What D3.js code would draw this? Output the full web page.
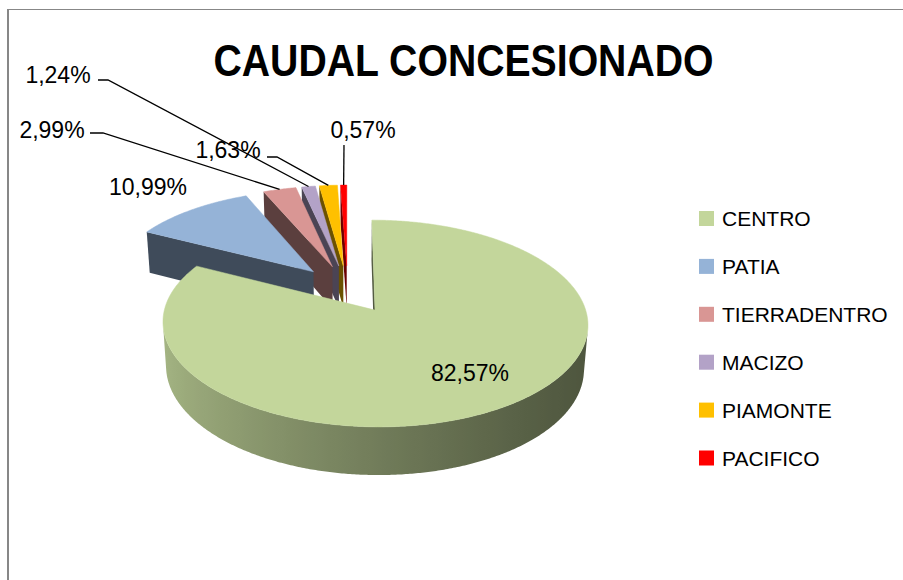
<!DOCTYPE html>
<html>
<head>
<meta charset="utf-8">
<script src="https://cdn.jsdelivr.net/npm/d3@7"></script>
<style>
  html, body { margin: 0; padding: 0; background: #fff; }
  svg { display: block; font-family: "Liberation Sans", Arial, sans-serif; }
</style>
</head>
<body>
<svg width="903" height="580"></svg>
<script>
const title = 'CAUDAL CONCESIONADO';
const regions = ['CENTRO', 'PATIA', 'TIERRADENTRO', 'MACIZO', 'PIAMONTE', 'PACIFICO'];
const shares = [82.57, 10.99, 2.99, 1.24, 1.63, 0.57];
const colors = ['#c3d69b', '#95b3d7', '#d99694', '#b3a2c7', '#ffc000', '#ff0000'];

// hand placed data labels (like the Excel original) and their leader lines
const labelPos = [[470, 373], [148, 187], [52, 130], [58, 75], [228, 150], [363, 130]];
const leaders = [null, null, [[90, 133], [103, 133]], [[98, 80], [108, 80]], [[267, 157], [277, 157]], [[344, 145]]];

const svg = d3.select('svg');
const defs = svg.append('defs');

// 3d view of the pie
const TILT = 28 * Math.PI / 180;
const SIN = Math.sin(TILT), COS = Math.cos(TILT);
const DIST = 7, FOCAL = 1435;
const CX = 347.6, CY = 289;
const EXPLODE = 0.25, THICK = 0.242;
const cam = [0, DIST * COS, DIST * SIN];

const project = ([u, v, w]) => {
    const z = DIST - v * COS - w * SIN;
    return [CX + FOCAL * u / z, CY + FOCAL * (v * SIN - w * COS) / z];
};
const depth = ([u, v, w]) => DIST - v * COS - w * SIN;

const shade = (col, k) => {
    const c = d3.rgb(col);
    return d3.rgb(c.r * k, c.g * k, c.b * k).formatHex();
};
// light comes from the left
const sideLight = (a) => 0.635 - 0.225 * Math.sin(a) + 0.055 * Math.cos(a);
const WALL_LIGHT = 0.42;

const data = regions.map((name, i) => ({ name, share: shares[i], color: colors[i] }));
const arcs = d3.pie().sort(null).value(d => d.share)(data);

const visible = (normal, p) =>
    normal[0] * (cam[0] - p[0]) + normal[1] * (cam[1] - p[1]) + normal[2] * (cam[2] - p[2]) > 0;

const walls = [];
const tops = [];
let gradId = 0;

arcs.forEach(a => {
    const mid = (a.startAngle + a.endAngle) / 2;
    const off = [EXPLODE * Math.sin(mid), -EXPLODE * Math.cos(mid)];
    const pt = (ang, r, w) => [off[0] + r * Math.sin(ang), off[1] - r * Math.cos(ang), w];
    a.pt = pt;
    a.mid = mid;

    const n = Math.max(2, Math.ceil((a.endAngle - a.startAngle) / (0.5 * Math.PI / 180)));
    const step = (a.endAngle - a.startAngle) / n;
    const ang = i => a.startAngle + i * step;

    // outer curved side: group visible segments into runs, one path + gradient each
    const vis = d3.range(n).map(i => {
        const tm = ang(i + 0.5);
        return visible([Math.sin(tm), -Math.cos(tm), 0], pt(tm, 1, -THICK / 2));
    });
    let i = 0;
    while (i < n) {
        if (!vis[i]) { i++; continue; }
        let j = i;
        while (j < n && vis[j]) j++;
        const ts = d3.range(i, j + 1).map(ang);
        const topPts = ts.map(t => pt(t, 1, 0));
        const botPts = ts.map(t => pt(t, 1, -THICK)).reverse();
        const xs = topPts.map(p => project(p)[0]);
        const x0 = d3.min(xs), x1 = d3.max(xs);
        const id = 'side' + (gradId++);
        const stops = ts.map((t, k) => ({ o: x1 > x0 ? (xs[k] - x0) / (x1 - x0) : 0, c: shade(a.data.color, sideLight(t)) }))
            .sort((p, q) => p.o - q.o)
            .filter((_s, k, arr) => k % 4 === 0 || k === arr.length - 1);
        defs.append('linearGradient')
            .attr('id', id)
            .attr('gradientUnits', 'userSpaceOnUse')
            .attr('x1', x0).attr('x2', x1).attr('y1', 0).attr('y2', 0)
            .selectAll('stop')
            .data(stops)
            .join('stop')
            .attr('offset', s => s.o)
            .attr('stop-color', s => s.c);
        const tmid = ang((i + j) / 2);
        walls.push({ pts: [...topPts, ...botPts], fill: `url(#${id})`, z: depth(pt(tmid, 1, -THICK / 2)) });
        i = j;
    }

    // radial walls
    const radial = (an, normal) => {
        const p = pt(an, 0.5, -THICK / 2);
        if (!visible(normal, p)) return;
        walls.push({
            pts: [pt(an, 0, 0), pt(an, 1, 0), pt(an, 1, -THICK), pt(an, 0, -THICK)],
            fill: shade(a.data.color, WALL_LIGHT),
            z: depth(p)
        });
    };
    radial(a.startAngle, [-Math.cos(a.startAngle), -Math.sin(a.startAngle), 0]);
    radial(a.endAngle, [Math.cos(a.endAngle), Math.sin(a.endAngle), 0]);

    // top face
    const ring = d3.range(n + 1).map(k => pt(ang(k), 1, 0));
    tops.push({ pts: [pt(0, 0, 0), ...ring], fill: a.data.color });
});

walls.sort((p, q) => q.z - p.z);

const line = d3.line();
const facePath = f => line(f.pts.map(project)) + 'Z';

// frame
svg.append('path')
    .attr('d', 'M8,580V9.5H903')
    .attr('fill', 'none')
    .attr('stroke', '#878787')
    .attr('stroke-width', 1.2);
svg.append('line')
    .attr('x1', 8).attr('x2', 8).attr('y1', 9).attr('y2', 580)
    .attr('stroke', '#878787').attr('stroke-width', 2);

// title
svg.append('text')
    .attr('x', 463.5)
    .attr('y', 75.5)
    .attr('text-anchor', 'middle')
    .attr('textLength', 500)
    .attr('lengthAdjust', 'spacingAndGlyphs')
    .style('font-size', '44px')
    .style('font-weight', 'bold')
    .style('fill', '#000')
    .text(title);

// pie
const pieG = svg.append('g').attr('id', 'pie');
pieG.append('g').attr('id', 'walls')
    .selectAll('path')
    .data(walls)
    .join('path')
    .attr('d', facePath)
    .attr('fill', d => d.fill)
    .attr('stroke', 'none');

pieG.append('g').attr('id', 'tops')
    .selectAll('path')
    .data(tops)
    .join('path')
    .attr('d', facePath)
    .attr('fill', d => d.fill)
    .attr('stroke', d => d.fill)
    .attr('stroke-width', 0.5)
    .attr('stroke-linejoin', 'round');

// leader lines
svg.append('g').attr('id', 'leaders')
    .selectAll('path')
    .data(arcs.filter((_d, i) => leaders[i]))
    .join('path')
    .attr('d', d => line([...leaders[d.index], project(d.pt(d.mid, 1, 0))]))
    .attr('fill', 'none')
    .attr('stroke', '#000')
    .attr('stroke-width', 1.3);

// data labels
const fmt = v => d3.format('.2f')(v).replace('.', ',') + '%';
svg.append('g').attr('id', 'labels')
    .selectAll('text')
    .data(arcs)
    .join('text')
    .attr('x', d => labelPos[d.index][0])
    .attr('y', d => labelPos[d.index][1])
    .attr('dy', '0.36em')
    .attr('text-anchor', 'middle')
    .style('font-size', '23px')
    .style('fill', '#000')
    .text(d => fmt(d.data.share));

// legend
const legendY = d3.scalePoint().domain(regions).range([218.5, 458]);
const legend = svg.append('g').attr('id', 'legend')
    .selectAll('g')
    .data(data)
    .join('g')
    .attr('transform', d => `translate(699,${legendY(d.name)})`);
legend.append('rect')
    .attr('x', 0).attr('y', -7.5)
    .attr('width', 15).attr('height', 15)
    .attr('fill', d => d.color);
legend.append('text')
    .attr('x', 23)
    .attr('dy', '0.36em')
    .style('font-size', '21px')
    .style('fill', '#000')
    .text(d => d.name);
</script>
</body>
</html>
